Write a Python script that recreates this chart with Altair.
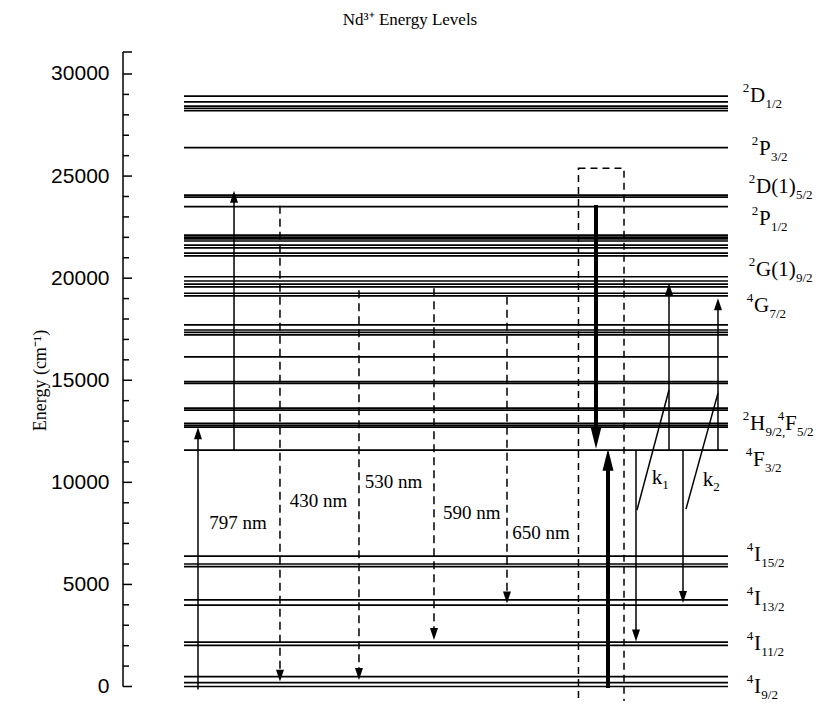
import altair as alt
import pandas as pd

# ---------------- data ----------------
# Stark sub-levels of Nd3+ (cm^-1)
level_energy = [28920, 28630, 28430, 28320, 28200,
                26390,
                24070, 23970, 23500,
                22110, 22010, 21920, 21820, 21620, 21480, 21230, 21090,
                20070, 19860, 19710, 19570, 19260, 19130,
                17710, 17460, 17340, 17220,
                16140,
                14930, 14850,
                13630, 13540,
                12890, 12790, 12700,
                11580,
                6390, 6000, 5870,
                4240, 3990,
                2170, 2010,
                480, 190, 0]
level_span = [8.84, 87.68]          # horizontal extent of the level lines (diagram units)

axis_major = [0, 5000, 10000, 15000, 20000, 25000, 30000]
axis_minor = [v for v in range(1000, 30000, 1000) if v % 5000 != 0]
axis_top = 31077

# thin solid arrows (797 nm pump, ESA, k1/k2 processes)
solid_x = [10.87, 16.09, 74.35, 79.13, 81.16, 86.23]
solid_from = [-150, 11580, 11580, 11580, 11580, 11580]
solid_to = [12700, 24280, 2200, 19750, 4090, 19010]

# dashed emission arrows
dashed_x = [22.75, 34.20, 45.07, 55.65]
dashed_from = [23550, 19410, 19500, 19090]
dashed_to = [240, 320, 2280, 4070]

# thick arrows inside the dashed box
thick_x = [68.55, 70.29]
thick_from = [23580, -70]
thick_to = [11650, 11650]

# diagonal strokes of k1 / k2
diag_x1 = [74.49, 81.59]
diag_e1 = [8640, 8690]
diag_x2 = [79.13, 86.23]
diag_e2 = [14520, 14370]

# dashed box
box_x = [66.01, 72.61]
box_e = [-1230, 25380]

# wavelength labels
wl_text = ["797 nm", "430 nm", "530 nm", "590 nm", "650 nm"]
wl_x = [16.67, 28.33, 39.20, 50.54, 60.58]
wl_e = [8010, 9080, 10030, 8510, 7500]

# rate labels
rate_main = ["k", "k"]
rate_sub = ["1", "2"]
rate_x = [76.62, 84.01]
rate_e = [10210, 10110]

# term labels on the right
term_sup = ["2", "2", "2", "2", "2", "4", "2", "4", "4", "4", "4", "4", "4"]
term_main = ["D", "P", "D(1)", "P", "G(1)", "G", "H", "F", "F", "I", "I", "I", "I"]
term_sub = ["1/2", "3/2", "5/2", "1/2", "9/2", "7/2", "9/2,", "5/2", "3/2", "15/2", "13/2", "11/2", "9/2"]
term_e = [28920, 26330, 24460, 22900, 20400, 18640, 12860, 12860, 11100, 6440, 4290, 2080, 0]
term_x = [90.87, 92.17, 91.74, 92.17, 91.74, 91.45, 90.87, 95.94, 91.30, 91.45, 91.45, 91.45, 91.45]

# ---------------- layout helpers ----------------
W_PLOT, H_PLOT = 690, 645
Y_DOMAIN = [-514, 31077]
X_DOMAIN = [0, 100]
px_per_e = H_PLOT / (Y_DOMAIN[1] - Y_DOMAIN[0])
px_per_u = W_PLOT / (X_DOMAIN[1] - X_DOMAIN[0])
MAIN_FS, SMALL_FS = 21, 13
CHAR_W = {"D": .722, "P": .556, "G": .722, "H": .722, "F": .556, "I": .333,
          "(": .333, ")": .333, "1": .5, "k": .5}


def text_width_units(s, fs):
    return sum(CHAR_W.get(c, .5) for c in s) * fs / px_per_u


xs = alt.Scale(domain=X_DOMAIN)
ys = alt.Scale(domain=Y_DOMAIN)

yaxis = alt.Axis(values=axis_major, domain=False, ticks=False, tickSize=0, grid=False,
                 format="d", labelFont="Liberation Sans", labelFontSize=21,
                 labelColor="black", labelPadding=14,
                 title="Energy (cm⁻¹)", titleFont="Liberation Serif", titleFontSize=18,
                 titleFontWeight="normal", titleColor="black", titleAngle=-90,
                 titleX=-83, titleY=328, titleAlign="center", titleBaseline="middle")


def X(f="x:Q"):
    return alt.X(f, scale=xs, axis=None)


def Y(f="y:Q"):
    return alt.Y(f, scale=ys, axis=yaxis)


UP_THIN = "M0,0L0.57,1.71L-0.57,1.71Z"
DOWN_THIN = "M0,0L0.57,-1.71L-0.57,-1.71Z"
UP_THICK = "M0,0L0.55,2.2L-0.55,2.2Z"
DOWN_THICK = "M0,0L0.55,-2.2L-0.55,-2.2Z"


def arrow_frames(xv, fr, to, head_px):
    back = head_px / px_per_e
    rows, up, dn = [], [], []
    for x, a, b in zip(xv, fr, to):
        d = 1 if b > a else -1
        rows.append({"x": x, "y": a, "y2": b - d * back})
        (up if d > 0 else dn).append({"x": x, "y": b})
    return (pd.DataFrame(rows), pd.DataFrame(up, columns=["x", "y"]),
            pd.DataFrame(dn, columns=["x", "y"]))


def rules(df, **kw):
    enc = dict(x=X(), y=Y())
    if "y2" in df.columns:
        enc["y2"] = "y2:Q"
    if "x2" in df.columns:
        enc["x2"] = "x2:Q"
    return alt.Chart(df).mark_rule(color="black", **kw).encode(**enc)


def heads(df, shape, size):
    return alt.Chart(df).mark_point(shape=shape, size=size, filled=True, color="black",
                                    opacity=1, strokeWidth=0).encode(x=X(), y=Y())


def texts(df, **kw):
    return alt.Chart(df).mark_text(color="black", font="Liberation Serif", **kw).encode(
        x=X(), y=Y(), text="t:N")


# ---------------- layers ----------------
levels = rules(pd.DataFrame({"y": level_energy, "x": level_span[0], "x2": level_span[1]}),
               strokeWidth=1.7)

maj_len = 9 / px_per_u
min_len = 6 / px_per_u
axis_line = rules(pd.DataFrame({"x": [0], "y": [0], "y2": [axis_top]}), strokeWidth=1.5)
major_t = rules(pd.DataFrame({"y": axis_major + [axis_top], "x": 0, "x2": maj_len}), strokeWidth=1.5)
minor_t = rules(pd.DataFrame({"y": axis_minor, "x": 0, "x2": min_len}), strokeWidth=1.5)

s_lines, s_up, s_dn = arrow_frames(solid_x, solid_from, solid_to, 6)
d_lines, d_up, d_dn = arrow_frames(dashed_x, dashed_from, dashed_to, 6)
t_lines, t_up, t_dn = arrow_frames(thick_x, thick_from, thick_to, 11)

solid = rules(s_lines, strokeWidth=1.5)
dashed = rules(d_lines, strokeWidth=1.5, strokeDash=[8, 5])
thick = rules(t_lines, strokeWidth=4)

diag = rules(pd.DataFrame({"x": diag_x1, "y": diag_e1, "x2": diag_x2, "y2": diag_e2}),
             strokeWidth=1.5)

box = alt.Chart(pd.DataFrame({"x": [box_x[0]], "x2": [box_x[1]], "y": [box_e[0]], "y2": [box_e[1]]})
                ).mark_rect(fill=None, stroke="black", strokeWidth=1.5, strokeDash=[7, 5]).encode(
    x=X(), x2="x2:Q", y=Y(), y2="y2:Q")

hd = [heads(s_up, UP_THIN, 196), heads(s_dn, DOWN_THIN, 196),
      heads(d_up, UP_THIN, 196), heads(d_dn, DOWN_THIN, 196),
      heads(t_up, UP_THICK, 400), heads(t_dn, DOWN_THICK, 400)]

wl = texts(pd.DataFrame({"x": wl_x, "y": wl_e, "t": wl_text}), fontSize=19,
           align="center", baseline="middle")

rk_main = texts(pd.DataFrame({"x": rate_x, "y": rate_e, "t": rate_main}), fontSize=21,
                align="left", baseline="middle")
rk_sub = texts(pd.DataFrame({"x": [x + text_width_units("k", 21) for x in rate_x],
                             "y": rate_e, "t": rate_sub}), fontSize=SMALL_FS,
               align="left", baseline="middle", dy=7)

tm_main = texts(pd.DataFrame({"x": term_x, "y": term_e, "t": term_main}), fontSize=MAIN_FS,
                align="left", baseline="middle")
tm_sup = texts(pd.DataFrame({"x": [x - 0.1 for x in term_x], "y": term_e, "t": term_sup}),
               fontSize=SMALL_FS, align="right", baseline="middle", dy=-8)
tm_sub = texts(pd.DataFrame({"x": [x + text_width_units(m, MAIN_FS) + 0.05
                                   for x, m in zip(term_x, term_main)],
                             "y": term_e, "t": term_sub}),
               fontSize=SMALL_FS, align="left", baseline="middle", dy=8)

chart = alt.layer(
    levels, axis_line, major_t, minor_t, box, solid, dashed, thick, diag, *hd,
    wl, rk_main, rk_sub, tm_main, tm_sup, tm_sub
).properties(
    width=W_PLOT, height=H_PLOT,
    padding={"left": 115, "top": 44, "right": 1, "bottom": 4},
    autosize=alt.AutoSizeParams(type="none"),
    background="white",
    title=alt.TitleParams(text="Nd³⁺ Energy Levels", font="Liberation Serif", fontSize=17,
                          fontWeight="normal", color="black", anchor="middle", dx=-58,
                          offset=22),
).configure_view(stroke=None)

chart.save("out.html", embed_options={"renderer": "svg", "actions": False})
